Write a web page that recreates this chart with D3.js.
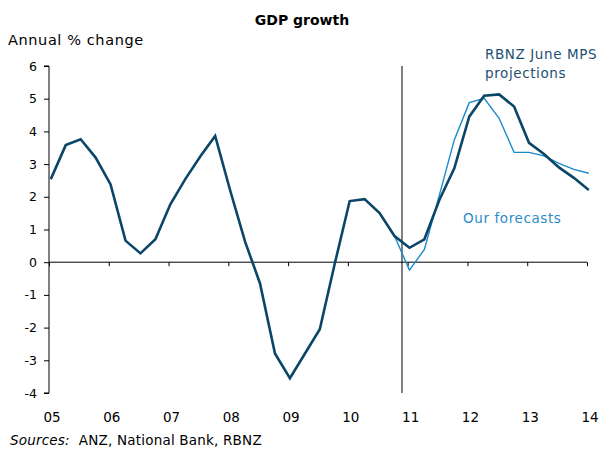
<!DOCTYPE html>
<html>
<head>
<meta charset="utf-8">
<script src="https://cdn.jsdelivr.net/npm/d3@7"></script>
<style>
  html, body { margin: 0; padding: 0; background: #fff; }
  svg { display: block; font-family: "DejaVu Sans", Verdana, sans-serif; }
</style>
</head>
<body>
<svg id="chart" width="600" height="450"></svg>
<script>
// Annual GDP growth, quarterly from 2005 Q1 to 2014 Q1
const firstYear = 2005;
// Actuals followed by the RBNZ June MPS projections
const rbnzSeries = [
  2.54, 3.58, 3.76, 3.20, 2.38, 0.66, 0.27, 0.70, 1.77, 2.54, 3.23, 3.86,
  2.20, 0.63, -0.65, -2.79, -3.55, -2.80, -2.05, -0.05, 1.87, 1.93, 1.50, 0.80,
  0.44, 0.70, 1.90, 2.87, 4.45, 5.09, 5.13, 4.76, 3.65, 3.31, 2.90, 2.58, 2.21
];
// Our forecasts, starting from the last actual quarter (index 23)
const forecastStartIndex = 23;
const ourForecasts = [
  0.80, -0.24, 0.39, 2.05, 3.74, 4.88, 5.01, 4.40, 3.36, 3.36, 3.25, 3.02, 2.84, 2.72
];
const yearTicks = [2005, 2006, 2007, 2008, 2009, 2010, 2011, 2012, 2013, 2014];
const yearLabels = ["05", "06", "07", "08", "09", "10", "11", "12", "13", "14"];
const yTicks = [-4, -3, -2, -1, 0, 1, 2, 3, 4, 5, 6];

const darkBlue = "#0b4669";
const lightBlue = "#1a8acb";

// Quarter i sits a little after the start of its quarter on the year axis
const quarterTime = i => firstYear + i / 4 + 0.03;

const svg = d3.select("#chart");
const x = d3.scaleLinear().domain([2005, 2014]).range([49, 587]);
const y = d3.scaleLinear().domain([-4, 6]).range([393, 66]);

// Title and axis caption
svg.append("text").attr("x", 302).attr("y", 25).attr("text-anchor", "middle")
  .attr("font-size", 14).attr("font-weight", "bold").attr("fill", "#000")
  .text("GDP growth");
svg.append("text").attr("x", 8).attr("y", 45)
  .attr("font-size", 14.5).attr("letter-spacing", 0.6).attr("fill", "#000")
  .text("Annual % change");

// Y axis
const yAxis = svg.append("g").attr("transform", `translate(${x(2005)},0)`)
  .call(d3.axisLeft(y).tickValues(yTicks).tickSize(5).tickPadding(7)
    .tickFormat(d => String(d)));
yAxis.select(".domain").attr("stroke", "#000").attr("d", `M-5,${y(6)}H0V${y(-4)}H-5`);
yAxis.selectAll(".tick line").attr("stroke", "#000");
yAxis.selectAll(".tick text").attr("font-size", 12.5).attr("fill", "#000")
  .attr("font-family", "DejaVu Sans, Verdana, sans-serif");

// X axis along zero, with year labels along the bottom
const xAxis = svg.append("g").attr("transform", `translate(0,${y(0)})`)
  .call(d3.axisBottom(x).tickValues(yearTicks).tickSize(4).tickFormat(""));
xAxis.select(".domain").attr("stroke", "#000").attr("d", `M${x(2005)},0H${x(2014)}`);
xAxis.selectAll(".tick line").attr("stroke", "#000");

svg.append("g").selectAll("text").data(yearTicks).join("text")
  .attr("x", d => x(d) + 3).attr("y", 422).attr("text-anchor", "middle")
  .attr("font-size", 13.5).attr("fill", "#000")
  .text((d, i) => yearLabels[i]);

// Divider between actuals and forecasts
const dividerX = x((quarterTime(forecastStartIndex) + quarterTime(forecastStartIndex + 1)) / 2);
svg.append("line").attr("x1", dividerX).attr("x2", dividerX)
  .attr("y1", y(6)).attr("y2", y(-4)).attr("stroke", "#000").attr("stroke-width", 1);

const line = d3.line().x(d => x(d.t)).y(d => y(d.v));

// Our forecasts (thin, light blue)
svg.append("path")
  .datum(ourForecasts.map((v, k) => ({ t: quarterTime(forecastStartIndex + k), v })))
  .attr("d", line).attr("fill", "none").attr("stroke", lightBlue)
  .attr("stroke-width", 1.4).attr("stroke-linejoin", "miter");

// Actuals and RBNZ projections (thick, dark blue)
svg.append("path")
  .datum(rbnzSeries.map((v, i) => ({ t: quarterTime(i), v })))
  .attr("d", line).attr("fill", "none").attr("stroke", darkBlue)
  .attr("stroke-width", 2.6).attr("stroke-linejoin", "miter");

// Series labels
const rbnzLabel = svg.append("text").attr("x", 485).attr("y", 59)
  .attr("font-size", 13.5).attr("letter-spacing", 0.6).attr("fill", "#1d5074");
rbnzLabel.append("tspan").attr("x", 485).attr("dy", 0).text("RBNZ June MPS");
rbnzLabel.append("tspan").attr("x", 485).attr("dy", 19).text("projections");

svg.append("text").attr("x", 463).attr("y", 223)
  .attr("font-size", 13.5).attr("letter-spacing", 0.6)
  .attr("fill", "#2a8cc8").text("Our forecasts");

// Sources note
const src = svg.append("text").attr("x", 10).attr("y", 445)
  .attr("font-size", 13.5).attr("letter-spacing", 0.2).attr("fill", "#000");
src.append("tspan").attr("font-style", "italic").text("Sources:");
src.append("tspan").text("\u00a0 ANZ, National Bank, RBNZ");
</script>
</body>
</html>
